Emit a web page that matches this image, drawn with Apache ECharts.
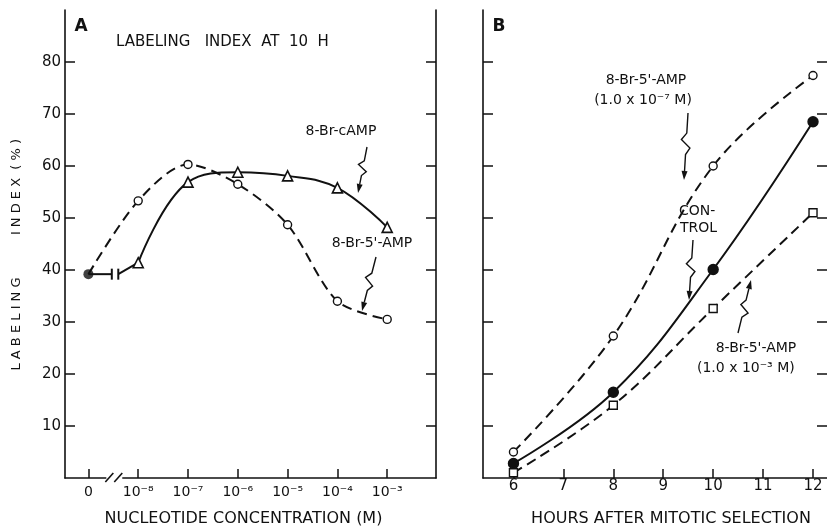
<!DOCTYPE html>
<html><head><meta charset="utf-8">
<script src="https://cdn.jsdelivr.net/npm/echarts@6/dist/echarts.min.js"></script>
<style>html,body{margin:0;padding:0;background:#fff}#c{width:827px;height:529px}</style>
</head><body><div id="c"></div>
<script>
// ---------- data ----------
const concLabels = ['0', '10⁻⁸', '10⁻⁷', '10⁻⁶', '10⁻⁵', '10⁻⁴', '10⁻³'];
const concPos = [0, 1, 2, 3, 4, 5, 6];
const controlA = [39.2];
const cAMP = [null, 41.4, 56.9, 58.8, 58.1, 55.8, 48.2];
const amp5A = [39.2, 53.3, 60.3, 56.5, 48.7, 34.0, 30.5];
const breakX = [0.47, 0.6];
const hours = [6, 8, 10, 12];
const hourTicks = [6, 7, 8, 9, 10, 11, 12];
const ampLowB = [5.0, 27.3, 60.0, 77.4];
const controlB = [2.8, 16.5, 40.1, 68.5];
const ampHighB = [1.0, 14.0, 32.6, 51.0];
const yTicks = [10, 20, 30, 40, 50, 60, 70, 80];

// ---------- styles ----------
const FONT = 'DejaVu Sans';
const BLACK = '#111';
const dash = [10, 6];

const chart = echarts.init(document.getElementById('c'), null, {renderer: 'canvas'});

function yAx(grid, pos, showLabel, showLine) {
  return {
    type: 'value', gridIndex: grid, position: pos, min: 0, max: 90,
    axisLine: {show: showLine, onZero: false, lineStyle: {color: BLACK, width: 1.6}},
    axisTick: {show: true, inside: true, length: 10, customValues: yTicks, lineStyle: {color: BLACK, width: 1.5}},
    axisLabel: {show: showLabel, customValues: yTicks, fontFamily: FONT, fontSize: 15, color: BLACK, margin: 4},
    splitLine: {show: false}
  };
}

const seriesA = [];
seriesA.push({
  type: 'line', xAxisIndex: 0, yAxisIndex: 0, smooth: 0.4,
  data: cAMP.map((v, i) => v == null ? null : [concPos[i], v]).filter(d => d),
  symbol: 'triangle', symbolSize: 10,
  itemStyle: {color: '#fff', borderColor: BLACK, borderWidth: 1.6},
  lineStyle: {color: BLACK, width: 2}, z: 3
});
seriesA.push({
  type: 'line', xAxisIndex: 0, yAxisIndex: 0, smooth: 0.3,
  data: amp5A.map((v, i) => i === 0 ? {value: [concPos[i], v], symbol: 'none'} : [concPos[i], v]),
  symbol: 'circle', symbolSize: 8,
  itemStyle: {color: '#fff', borderColor: BLACK, borderWidth: 1.4},
  lineStyle: {color: BLACK, width: 2, type: dash}, z: 3
});
seriesA.push({
  type: 'line', xAxisIndex: 0, yAxisIndex: 0,
  data: [{value: [concPos[0], controlA[0]], symbol: 'none'}, {value: [breakX[0], controlA[0]], symbol: 'rect', symbolSize: [2, 11]}],
  itemStyle: {color: BLACK}, lineStyle: {color: BLACK, width: 2}, z: 2
});
seriesA.push({
  type: 'line', xAxisIndex: 0, yAxisIndex: 0,
  data: [{value: [breakX[1], controlA[0]], symbol: 'rect', symbolSize: [2, 11]}, {value: [concPos[1], cAMP[1]], symbol: 'none'}],
  itemStyle: {color: BLACK}, lineStyle: {color: BLACK, width: 2}, z: 2
});
seriesA.push({
  type: 'scatter', xAxisIndex: 0, yAxisIndex: 0,
  data: controlA.map(v => [concPos[0], v]),
  symbol: 'circle', symbolSize: 10, itemStyle: {color: BLACK}, z: 5
});

const seriesB = [
  {data: ampLowB, solid: false, symbol: 'circle', size: 8, fill: '#fff'},
  {data: controlB, solid: true, symbol: 'circle', size: 10, fill: BLACK},
  {data: ampHighB, solid: false, symbol: 'rect', size: 8, fill: '#fff'}
].map(s => ({
  type: 'line', xAxisIndex: 1, yAxisIndex: 2, smooth: 0.4,
  data: s.data.map((v, i) => [hours[i], v]),
  symbol: s.symbol, symbolSize: s.size,
  itemStyle: {color: s.fill, borderColor: BLACK, borderWidth: 1.4},
  lineStyle: {color: BLACK, width: 2, type: s.solid ? 'solid' : dash}, z: 3
}));

const option = {
  animation: false,
  backgroundColor: '#fff',
  grid: [
    {left: 65, right: 391, top: 10, bottom: 51, containLabel: false, outerBoundsMode: 'none'},
    {left: 483, right: 0, top: 10, bottom: 51, containLabel: false, outerBoundsMode: 'none'}
  ],
  xAxis: [
    {
      type: 'value', gridIndex: 0, min: -0.47, max: 6.98,
      axisLine: {onZero: false, lineStyle: {color: BLACK, width: 1.6}},
      axisTick: {inside: true, length: 9, customValues: concPos, lineStyle: {color: BLACK, width: 1.5}},
      axisLabel: {customValues: concPos, formatter: v => concLabels[Math.round(v)], fontFamily: FONT, fontSize: 14, color: BLACK, margin: 7},
      splitLine: {show: false},
      name: 'NUCLEOTIDE CONCENTRATION (M)', nameLocation: 'middle', nameGap: 33,
      nameTextStyle: {fontFamily: FONT, fontSize: 16, color: BLACK, padding: [0, 14, 0, 0]}
    },
    {
      type: 'value', gridIndex: 1, min: 5.39, max: 12.28,
      axisLine: {onZero: false, lineStyle: {color: BLACK, width: 1.6}},
      axisTick: {inside: true, length: 9, customValues: hourTicks, lineStyle: {color: BLACK, width: 1.5}},
      axisLabel: {customValues: hourTicks, fontFamily: FONT, fontSize: 15, color: BLACK, margin: 1},
      splitLine: {show: false},
      name: 'HOURS AFTER MITOTIC SELECTION', nameLocation: 'middle', nameGap: 33,
      nameTextStyle: {fontFamily: FONT, fontSize: 16, color: BLACK, padding: [0, 0, 0, 32]}
    }
  ],
  yAxis: [
    yAx(0, 'left', true, true),
    yAx(0, 'right', false, true),
    yAx(1, 'left', false, true),
    yAx(1, 'right', false, false)
  ],
  series: seriesA.concat(seriesB)
};
chart.setOption(option);

// ---------- annotations ----------
function txt(s, x, y, size, align, opts) {
  return Object.assign({
    type: 'text', x: x, y: y, z: 10,
    style: {text: s, font: (opts && opts.bold ? 'bold ' : '') + size + 'px "' + FONT + '"', fill: BLACK,
      align: align || 'center', verticalAlign: 'middle', textAlign: align || 'center', textVerticalAlign: 'middle'}
  }, opts && opts.rotation ? {rotation: opts.rotation} : {});
}
function squiggle(x0, y0, x1, y1) {
  const dx = x1 - x0, dy = y1 - y0, L = Math.hypot(dx, dy);
  const ux = dx / L, uy = dy / L, px = -uy, py = ux;
  const head = 9;
  const pt = (t, o) => [x0 + ux * t * L + px * o, y0 + uy * t * L + py * o];
  const pts = [pt(0, 0), pt(0.3, 0), pt(0.4, 5), pt(0.52, -4), pt(0.62, 0), [x1 - ux * head, y1 - uy * head]];
  const bx = x1 - ux * head, by = y1 - uy * head;
  return [
    {type: 'polyline', z: 10, shape: {points: pts}, style: {stroke: BLACK, lineWidth: 1.4, fill: null}},
    {type: 'polygon', z: 10, shape: {points: [[x1, y1], [bx + px * 3, by + py * 3], [bx - px * 3, by - py * 3]]}, style: {fill: BLACK}}
  ];
}

const g = [];
g.push(txt('A', 81, 27, 17, 'center', {bold: true}));
g.push(txt('LABELING   INDEX  AT  10  H', 116, 42, 15, 'left'));
g.push(txt('L A B E L I N G', 17, 324, 13, 'center', {rotation: Math.PI / 2}));
g.push(txt('I N D E X  ( % )', 17, 187, 13, 'center', {rotation: Math.PI / 2}));
g.push(txt('8-Br-cAMP', 341, 131, 14, 'center'));
g.push(txt("8-Br-5'-AMP", 372, 243, 14, 'center'));
g.push(...squiggle(367, 147, 358, 193));
g.push(...squiggle(376, 257, 362, 311));

g.push(txt('B', 499, 27, 17, 'center', {bold: true}));
g.push(txt("8-Br-5'-AMP", 646, 80, 14, 'center'));
g.push(txt('(1.0 x 10⁻⁷ M)', 643, 100, 14, 'center'));
g.push(txt('CON-', 679, 211, 14, 'left'));
g.push(txt('TROL', 680, 228, 14, 'left'));
g.push(txt("8-Br-5'-AMP", 756, 348, 14, 'center'));
g.push(txt('(1.0 x 10⁻³ M)', 697, 368, 14, 'left'));
g.push(...squiggle(688, 113, 684, 180));
g.push(...squiggle(693, 240, 689, 300));
g.push(...squiggle(738, 333, 751, 280));

// axis break on panel A
const P = v => chart.convertToPixel({xAxisIndex: 0, yAxisIndex: 0}, [v, 0]);
const gL = P(0.36), gR = P(0.68), s1 = P(0.42), s2 = P(0.6);
g.push({type: 'rect', z: 9, shape: {x: gL[0], y: gL[1] - 3, width: gR[0] - gL[0], height: 6}, style: {fill: '#fff'}});
g.push({type: 'line', z: 10, shape: {x1: s1[0] - 4, y1: s1[1] + 4, x2: s1[0] + 4, y2: s1[1] - 5}, style: {stroke: BLACK, lineWidth: 1.6}});
g.push({type: 'line', z: 10, shape: {x1: s2[0] - 4, y1: s2[1] + 4, x2: s2[0] + 4, y2: s2[1] - 5}, style: {stroke: BLACK, lineWidth: 1.6}});

chart.setOption({graphic: g});
</script></body></html>
